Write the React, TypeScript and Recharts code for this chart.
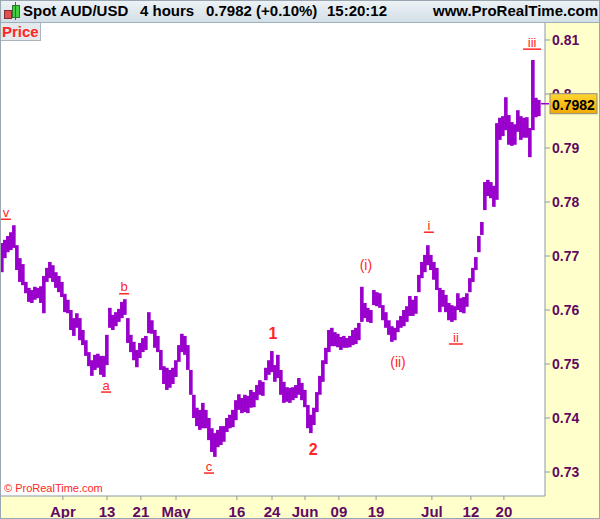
import { BarChart, Bar, XAxis, YAxis, CartesianGrid, ReferenceDot } from 'recharts';

// 4h bars (one entry every ~half day)
const highs = [
  0.7724, 0.773, 0.7737, 0.7744, 0.7757, 0.772, 0.7696, 0.7685, 0.7652, 0.7641,
  0.7637, 0.7643, 0.7641, 0.7644, 0.7663, 0.7678, 0.7689, 0.7683, 0.767, 0.7663,
  0.7652, 0.763, 0.7619, 0.76, 0.7585, 0.7594, 0.7585, 0.7563, 0.7544, 0.7522,
  0.7507, 0.7517, 0.7519, 0.7515, 0.7515, 0.7554, 0.7604, 0.7591, 0.7596, 0.7602,
  0.7615, 0.762, 0.7585, 0.7554, 0.7541, 0.7526, 0.7539, 0.7548, 0.7552, 0.7596,
  0.7581, 0.7563, 0.7552, 0.7526, 0.7496, 0.7493, 0.7489, 0.7493, 0.7507, 0.7535,
  0.7556, 0.7552, 0.7535, 0.7489, 0.7443, 0.7419, 0.7415, 0.7428, 0.7415, 0.74,
  0.7381, 0.7372, 0.7378, 0.7385, 0.7385, 0.74, 0.7406, 0.7415, 0.7433, 0.7444,
  0.7437, 0.7443, 0.7441, 0.7452, 0.7448, 0.7461, 0.747, 0.7467, 0.7493, 0.7507,
  0.7524, 0.7498, 0.7517, 0.7489, 0.7467, 0.7457, 0.7456, 0.7457, 0.7461, 0.7474,
  0.7465, 0.7452, 0.7424, 0.7406, 0.7419, 0.7448, 0.7478, 0.7507, 0.753, 0.7563,
  0.7567, 0.7559, 0.7556, 0.755, 0.7552, 0.7548, 0.7552, 0.7563, 0.7567, 0.7576,
  0.7643, 0.7613, 0.7604, 0.76, 0.7637, 0.7633, 0.7631, 0.7609, 0.7596, 0.7581,
  0.757, 0.7567, 0.7581, 0.7589, 0.76, 0.7607, 0.7626, 0.7619, 0.7626, 0.7665,
  0.7689, 0.7702, 0.772, 0.7702, 0.7689, 0.7678, 0.7641, 0.7637, 0.7628, 0.7613,
  0.7609, 0.7607, 0.7631, 0.7622, 0.7624, 0.7631, 0.7659, 0.7678, 0.7698, 0.7737,
  0.7763, 0.7837, 0.7841, 0.7837, 0.783, 0.7946, 0.7956, 0.7959, 0.7994, 0.7961,
  0.7948, 0.7944, 0.797, 0.7959, 0.7956, 0.7957, 0.7937, 0.8063, 0.7993, 0.7989,
];

const lows = [
  0.767, 0.7696, 0.7707, 0.7711, 0.7715, 0.7674, 0.7652, 0.7646, 0.7631, 0.7615,
  0.7613, 0.7619, 0.7622, 0.7613, 0.7594, 0.7652, 0.7659, 0.7652, 0.7641, 0.7633,
  0.7624, 0.7596, 0.7594, 0.7563, 0.7552, 0.7567, 0.7544, 0.7535, 0.7515, 0.7496,
  0.7478, 0.7489, 0.7493, 0.748, 0.7476, 0.7498, 0.7567, 0.7563, 0.757, 0.7578,
  0.7585, 0.7591, 0.7539, 0.7522, 0.7507, 0.7494, 0.7511, 0.7522, 0.7526, 0.7557,
  0.7556, 0.753, 0.7522, 0.7489, 0.7463, 0.7452, 0.7456, 0.7463, 0.7476, 0.7504,
  0.7522, 0.7517, 0.7489, 0.7443, 0.74, 0.7385, 0.7378, 0.7381, 0.7381, 0.7359,
  0.7337, 0.7328, 0.7346, 0.735, 0.7356, 0.7374, 0.7381, 0.7383, 0.7396, 0.7415,
  0.7409, 0.7411, 0.7409, 0.7419, 0.742, 0.7433, 0.7443, 0.7441, 0.747, 0.748,
  0.7485, 0.7467, 0.7474, 0.7443, 0.7428, 0.743, 0.7428, 0.7433, 0.7437, 0.7443,
  0.7433, 0.742, 0.7381, 0.7372, 0.7387, 0.7411, 0.7443, 0.7467, 0.75, 0.7522,
  0.7533, 0.7533, 0.7531, 0.7526, 0.753, 0.753, 0.7531, 0.7535, 0.7537, 0.7544,
  0.7578, 0.7585, 0.7578, 0.7576, 0.7609, 0.7607, 0.7604, 0.7581, 0.7567, 0.7554,
  0.7541, 0.7544, 0.7559, 0.7567, 0.757, 0.7578, 0.7589, 0.7589, 0.7593, 0.7633,
  0.7659, 0.767, 0.7683, 0.7674, 0.7656, 0.7637, 0.7596, 0.7606, 0.7596, 0.7581,
  0.7578, 0.7581, 0.76, 0.7596, 0.7594, 0.7606, 0.7633, 0.7652, 0.7674, 0.7707,
  0.7739, 0.7785, 0.7811, 0.7807, 0.7791, 0.7804, 0.7915, 0.7922, 0.7933, 0.7906,
  0.7904, 0.7906, 0.793, 0.7915, 0.7919, 0.7919, 0.7883, 0.7933, 0.7957, 0.7959,
];

const lastPrice = 0.7982;

const dateTicks = [20.3, 35, 46.3, 58, 78.3, 90, 101, 112.3, 124.7, 143.3, 156.3, 167.3];
const dateLabels = ['Apr', '13', '21', 'May', '16', '24', 'Jun', '09', '19', 'Jul', '12', '20'];
const priceTicks = [0.73, 0.74, 0.75, 0.76, 0.77, 0.78, 0.79, 0.8, 0.81];

const waveText = ['v', 'a', 'b', 'c', '1', '2', '(i)', '(ii)', 'i', 'ii', 'iii'];
const waveAt = [1.3, 34.7, 40.7, 69, 90.3, 103.7, 121.3, 132, 142.3, 151.3, 176.7];
const waveLevel = [0.7781, 0.7461, 0.7643, 0.7311, 0.7557, 0.7341, 0.7683, 0.7504, 0.7757, 0.755, 0.8096];

const bars = highs.map((h, i) => ({ i, range: [lows[i], h] }));

const FONT = '"Liberation Sans", Arial, sans-serif';
const AXIS_TEXT = '#5f0a62';
const RED = '#ff2626';
const PURPLE = '#9900cc';

// range bar drawn a bit wider than the slot so neighbours touch
function RangeBar(props: any) {
  const { x, y, width, height } = props;
  if (!isFinite(x) || !isFinite(y)) return null;
  const cx = x + width / 2;
  const top = height < 0 ? y + height : y;
  return <rect x={cx - 1.8} y={top} width={3.6} height={Math.max(Math.abs(height), 1)} fill={PURPLE} />;
}

function PriceTick(props: any) {
  const { x, y, payload } = props;
  const v = payload.value;
  if (v === lastPrice) {
    return (
      <g>
        <line x1={x - 11} x2={x - 3} y1={y} y2={y} stroke={PURPLE} strokeWidth={1.5} />
        <rect x={x - 2} y={y - 10} width={47} height={20} fill="url(#tagFill)" stroke="#8c8c8c" />
        <text x={x + 21.5} y={y + 1} textAnchor="middle" dominantBaseline="central"
          fontFamily={FONT} fontSize={14} fontWeight="bold" fill="#000">
          {v.toFixed(4)}
        </text>
      </g>
    );
  }
  return (
    <g>
      <line x1={x - 7} x2={x - 2} y1={y} y2={y} stroke="#8a9aa5" />
      <text x={x} y={y} dominantBaseline="central" fontFamily={FONT} fontSize={14}
        fontWeight="bold" fill={AXIS_TEXT}>
        {String(+v.toFixed(2))}
      </text>
    </g>
  );
}

function DateTick(props: any) {
  const { x, y, index } = props;
  return (
    <text x={x} y={y + 9} textAnchor="middle" dominantBaseline="central" fontFamily={FONT}
      fontSize={15} fontWeight="bold" fill={AXIS_TEXT}>
      {dateLabels[index]}
    </text>
  );
}

function WaveLabel(props: any) {
  const { viewBox, text } = props;
  const cx = viewBox.x + viewBox.width / 2;
  const cy = viewBox.y + viewBox.height / 2;
  const bold = /^\d$/.test(text);
  const underline = /^[a-z]+$/.test(text);
  const size = bold ? 16 : underline ? 13 : 14;
  const w = text.length * 2 + 3;
  return (
    <g>
      <text x={cx} y={cy} textAnchor="middle" dominantBaseline="central" fontFamily={FONT}
        fontSize={size} fontWeight={bold ? 'bold' : 'normal'} fill={RED}>
        {text}
      </text>
      {underline && (
        <line x1={cx - w} x2={cx + w} y1={cy + 7} y2={cy + 7} stroke={RED} strokeWidth={1.5} />
      )}
    </g>
  );
}

export default function App() {
  return (
    <div style={{ position: 'absolute', left: 0, top: 0, width: 600, height: 519, background: '#ffffcc', fontFamily: FONT, overflow: 'hidden' }}>
      <div style={{ position: 'absolute', left: 0, top: 0, width: 600, height: 22, borderBottom: '1px solid #9fb0bc', background: 'linear-gradient(#eef3f6, #d3dfe7)' }}>
        <div style={{ position: 'absolute', left: 4, top: 10, width: 6, height: 7, background: '#e05050', border: '1px solid #803030' }} />
        <div style={{ position: 'absolute', left: 12, top: 5, width: 6, height: 11, background: '#40d040', border: '1px solid #307030' }} />
        <div style={{ position: 'absolute', left: 15, top: 2, width: 1, height: 18, background: '#307030' }} />
        {[['Spot AUD/USD', 23], ['4 hours', 140], ['0.7982 (+0.10%)', 206], ['15:20:12', 327], ['www.ProRealTime.com', 433]].map(([t, l]) => (
          <span key={t as string} style={{ position: 'absolute', left: l as number, top: 2, fontSize: 15, fontWeight: 'bold', color: '#000', whiteSpace: 'nowrap' }}>{t}</span>
        ))}
      </div>
      <div style={{ position: 'absolute', left: 0, top: 23 }}>
        <BarChart width={600} height={496} data={bars} barCategoryGap={0} barGap={0}
          margin={{ top: 0, right: 0, bottom: 0, left: 0 }}>
          <defs>
            <linearGradient id="tagFill" x1="0" y1="0" x2="0" y2="1">
              <stop offset="0%" stopColor="#ffd633" />
              <stop offset="100%" stopColor="#f2a900" />
            </linearGradient>
          </defs>
          <CartesianGrid horizontal={false} vertical={false} fill="#ffffff" />
          <XAxis type="number" dataKey="i" domain={[-0.667, 181]} allowDataOverflow ticks={dateTicks}
            interval={0} height={23} tickSize={4} tickMargin={2} stroke="#8a9aa5"
            tickLine={{ stroke: '#8a9aa5' }} tick={<DateTick />} />
          <YAxis orientation="right" domain={[0.725556, 0.813148]} allowDataOverflow
            ticks={[...priceTicks, lastPrice]} interval={0} width={55} tickSize={5} tickMargin={2}
            stroke="#8a9aa5" tickLine={false} tick={<PriceTick />} />
          <Bar dataKey="range" fill={PURPLE} barSize={3} shape={<RangeBar />} isAnimationActive={false} />
          {waveText.map((t, k) => (
            <ReferenceDot key={t + k} x={waveAt[k]} y={waveLevel[k]} r={1} fill="none" stroke="none"
              ifOverflow="visible" label={<WaveLabel text={t} />} />
          ))}
        </BarChart>
      </div>
      <div style={{ position: 'absolute', left: 0, top: 23, width: 38, height: 17, background: '#e3e9ec', borderRight: '1px solid #aab4ba', borderBottom: '1px solid #aab4ba', color: RED, fontSize: 15, fontWeight: 'bold', lineHeight: '17px', paddingLeft: 2 }}>Price</div>
      <div style={{ position: 'absolute', left: 4, top: 482, fontSize: 11, color: RED }}>© ProRealTime.com</div>
      <div style={{ position: 'absolute', left: 0, top: 0, width: 598, height: 517, border: '1px solid #9aa7b0', pointerEvents: 'none' }} />
    </div>
  );
}
